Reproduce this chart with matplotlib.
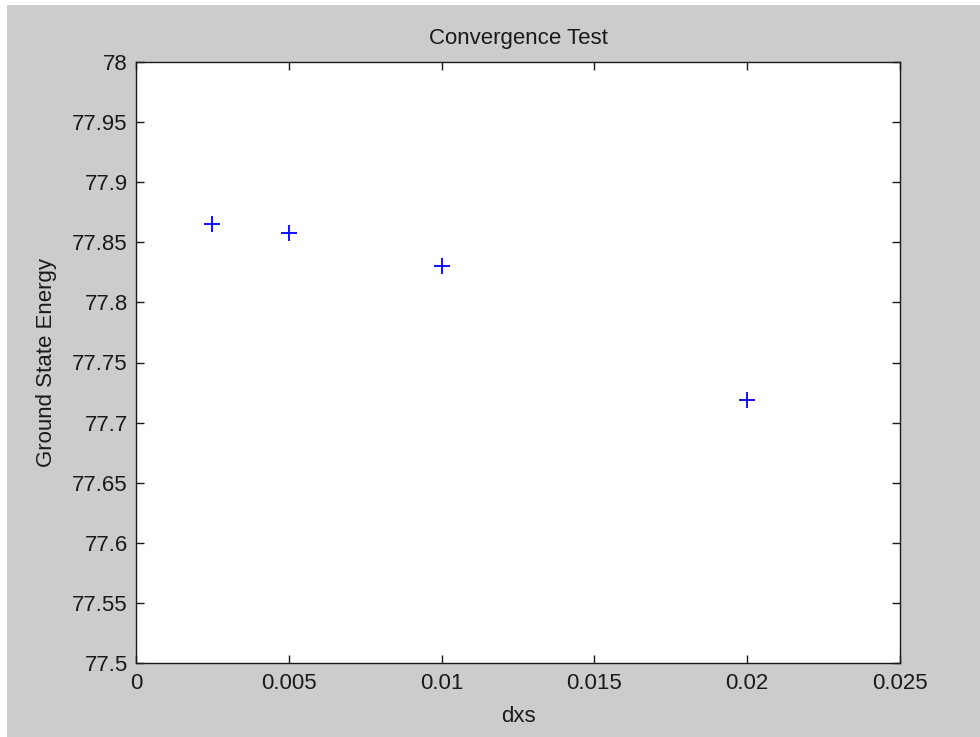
import matplotlib
matplotlib.use("Agg")
import matplotlib.pyplot as plt

plt.rcParams['font.family'] = ['Liberation Sans', 'DejaVu Sans']

dxs = [0.0025, 0.005, 0.01, 0.02]
energy = [77.865, 77.858, 77.830, 77.719]
xticks = [0, 0.005, 0.01, 0.015, 0.02, 0.025]
xtick_labels = ['0', '0.005', '0.01', '0.015', '0.02', '0.025']
yticks = [77.5, 77.55, 77.6, 77.65, 77.7, 77.75, 77.8, 77.85, 77.9, 77.95, 78]
ytick_labels = ['77.5', '77.55', '77.6', '77.65', '77.7', '77.75', '77.8', '77.85', '77.9', '77.95', '78']

fig = plt.figure(figsize=(9.8, 7.37), dpi=100)
fig.patch.set_facecolor('#cccccc')
# white document margins (screenshot)
fig.patches.append(plt.Rectangle((0, (737-5)/737), 1, 5/737, transform=fig.transFigure,
                                 facecolor='white', edgecolor='none', zorder=5))
fig.patches.append(plt.Rectangle((0, 0), 7/980, 1, transform=fig.transFigure,
                                 facecolor='white', edgecolor='none', zorder=5))

ax = fig.add_axes([136/980, (737-663)/737, (900-136)/980, (663-62)/737])
ax.set_facecolor('white')
ax.plot(dxs, energy, linestyle='none', marker='+', color='#0000ff', markersize=12, markeredgewidth=1.3)
ax.set_xlim(0, 0.025)
ax.set_ylim(77.5, 78)
ax.set_xticks(xticks)
ax.set_xticklabels(xtick_labels)
ax.set_yticks(yticks)
ax.set_yticklabels(ytick_labels)
ax.tick_params(direction='in', length=6, width=1, top=True, right=True, labelsize=16, colors='#1a1a1a')
ax.tick_params(axis='y', pad=6)
ax.tick_params(axis='x', pad=7)
for s in ax.spines.values():
    s.set_linewidth(1)
    s.set_color('#1a1a1a')
ax.set_title('Convergence Test', fontsize=16, pad=13, color='#1a1a1a')
ax.set_xlabel('dxs', fontsize=16, labelpad=9, color='#1a1a1a')
ax.set_ylabel('Ground State Energy', fontsize=16, labelpad=11, color='#1a1a1a')

fig.savefig('out.png', dpi=100, facecolor=fig.get_facecolor())
